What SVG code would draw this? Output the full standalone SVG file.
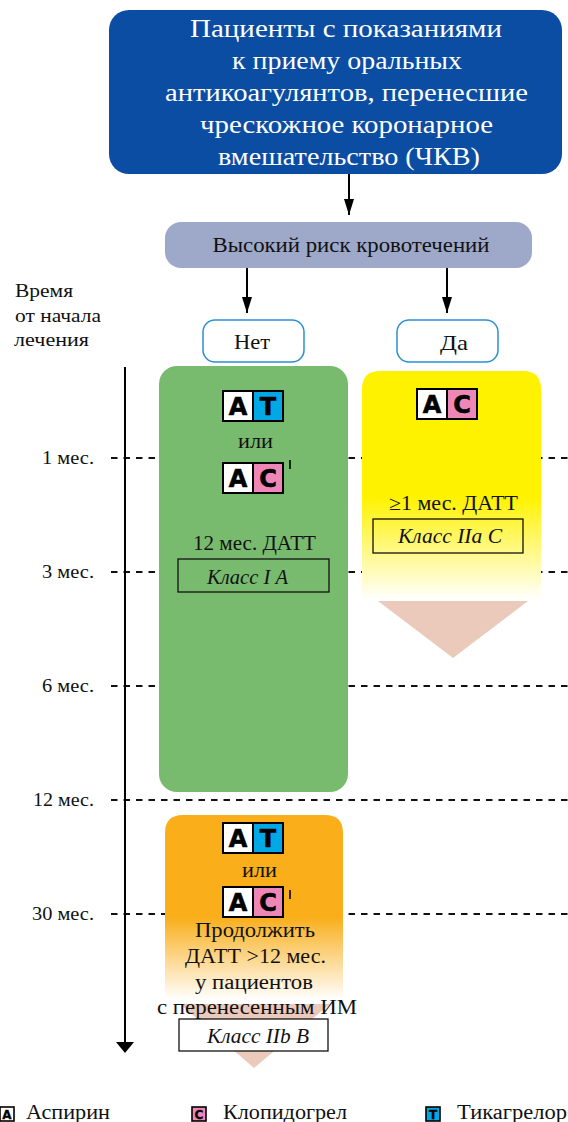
<svg xmlns="http://www.w3.org/2000/svg" width="568" height="1122" viewBox="0 0 568 1122">
<style>
.t{font-family:"Liberation Serif","DejaVu Serif","Times New Roman",serif;fill:#111;}
.c{text-anchor:middle;}
.r{text-anchor:end;}
.w{fill:#fff;}
.it{font-style:italic;}
.bl{font-family:"DejaVu Sans","Liberation Sans",Arial,sans-serif;font-weight:bold;text-anchor:middle;fill:#000;stroke:#000;stroke-width:0.6;}
.dash{stroke:#111;stroke-width:2;stroke-dasharray:6.5 6;}
.conn{stroke:#000;stroke-width:2;fill:none;}
.cls{fill:none;stroke:#111;stroke-width:1.3;}
.yn{fill:#fff;stroke:#2b8fd3;stroke-width:1.5;}
</style>
<defs>
<linearGradient id="gy" x1="0" y1="0" x2="0" y2="1">
<stop offset="0" stop-color="#fff200"/>
<stop offset="0.55" stop-color="#fff200"/>
<stop offset="1" stop-color="#ffffff"/>
</linearGradient>
<linearGradient id="go" x1="0" y1="0" x2="0" y2="1">
<stop offset="0" stop-color="#f9ae1a"/>
<stop offset="0.55" stop-color="#f9ae1a"/>
<stop offset="1" stop-color="#ffffff"/>
</linearGradient>
<marker id="ah" viewBox="0 0 16 10" refX="16" refY="5" markerWidth="16" markerHeight="10" markerUnits="userSpaceOnUse" orient="auto">
<path d="M0,0 L16,5 L0,10 Z" fill="#000"/>
</marker>
<g id="bAT">
<rect x="0" y="0" width="30" height="30" fill="#fff"/>
<rect x="30" y="0" width="30" height="30" fill="#00a8e6"/>
<rect x="0" y="0" width="60" height="30" fill="none" stroke="#000" stroke-width="2"/>
<line x1="30" y1="0" x2="30" y2="30" stroke="#000" stroke-width="2"/>
<text x="15" y="24" class="bl" font-size="24">A</text>
<text x="45" y="24" class="bl" font-size="24">T</text>
</g>
<g id="bAC">
<rect x="0" y="0" width="30" height="30" fill="#fff"/>
<rect x="30" y="0" width="30" height="30" fill="#ef86b8"/>
<rect x="0" y="0" width="60" height="30" fill="none" stroke="#000" stroke-width="2"/>
<line x1="30" y1="0" x2="30" y2="30" stroke="#000" stroke-width="2"/>
<text x="15" y="24" class="bl" font-size="24">A</text>
<text x="45" y="24" class="bl" font-size="24">C</text>
</g>
</defs>

<g id="timeline">
<line x1="111" y1="458" x2="568" y2="458" class="dash"/>
<line x1="111" y1="572" x2="568" y2="572" class="dash"/>
<line x1="111" y1="686" x2="568" y2="686" class="dash"/>
<line x1="111" y1="800" x2="568" y2="800" class="dash"/>
<line x1="111" y1="914" x2="568" y2="914" class="dash"/>
<line x1="125" y1="367" x2="125" y2="1042" stroke="#000" stroke-width="2"/>
<path d="M116,1042 L134,1042 L125,1053 Z" fill="#000"/>
<text x="15" y="297" class="t" font-size="19" textLength="58" lengthAdjust="spacingAndGlyphs">Время</text>
<text x="15" y="322" class="t" font-size="19" textLength="86" lengthAdjust="spacingAndGlyphs">от начала</text>
<text x="14" y="346" class="t" font-size="19" textLength="75" lengthAdjust="spacingAndGlyphs">лечения</text>
<text x="94" y="464" class="t r" font-size="19" textLength="52" lengthAdjust="spacingAndGlyphs">1 мес.</text>
<text x="94" y="578" class="t r" font-size="19" textLength="52" lengthAdjust="spacingAndGlyphs">3 мес.</text>
<text x="94" y="692" class="t r" font-size="19" textLength="52" lengthAdjust="spacingAndGlyphs">6 мес.</text>
<text x="94" y="806" class="t r" font-size="19" textLength="61" lengthAdjust="spacingAndGlyphs">12 мес.</text>
<text x="94" y="920" class="t r" font-size="19" textLength="62" lengthAdjust="spacingAndGlyphs">30 мес.</text>
</g>

<g id="connectors">
<line x1="349" y1="174" x2="349" y2="215" class="conn" marker-end="url(#ah)"/>
<line x1="247" y1="268" x2="247" y2="313" class="conn" marker-end="url(#ah)"/>
<line x1="447" y1="268" x2="447" y2="313" class="conn" marker-end="url(#ah)"/>
</g>

<g id="patients">
<rect x="109" y="10" width="453" height="164" rx="20" fill="#0a4da2"/>
<text x="346" y="37" class="t c w" font-size="25" textLength="312" lengthAdjust="spacingAndGlyphs">Пациенты с показаниями</text>
<text x="347" y="69" class="t c w" font-size="25" textLength="230" lengthAdjust="spacingAndGlyphs">к приему оральных</text>
<text x="346.5" y="101" class="t c w" font-size="25" textLength="363" lengthAdjust="spacingAndGlyphs">антикоагулянтов, перенесшие</text>
<text x="346.5" y="133" class="t c w" font-size="25" textLength="293" lengthAdjust="spacingAndGlyphs">чрескожное коронарное</text>
<text x="349" y="165" class="t c w" font-size="25" textLength="262" lengthAdjust="spacingAndGlyphs">вмешательство (ЧКВ)</text>
</g>

<g id="risk">
<rect x="165" y="222" width="367" height="46" rx="16" fill="#9ea8c9"/>
<text x="351" y="252" class="t c" font-size="21" textLength="277" lengthAdjust="spacingAndGlyphs">Высокий риск кровотечений</text>
</g>

<g id="no">
<rect x="203" y="320" width="101" height="42" rx="12" class="yn"/>
<text x="252" y="349" class="t c" font-size="21" textLength="36" lengthAdjust="spacingAndGlyphs">Нет</text>
</g>

<g id="yes">
<rect x="397" y="320" width="101" height="42" rx="12" class="yn"/>
<text x="454" y="350" class="t c" font-size="21" textLength="28" lengthAdjust="spacingAndGlyphs">Да</text>
</g>

<g id="green">
<rect x="159" y="366" width="189" height="426" rx="18" fill="#78bb6e"/>
<use href="#bAT" x="223" y="391"/>
<text x="255.5" y="448" class="t c" font-size="20" textLength="35" lengthAdjust="spacingAndGlyphs">или</text>
<use href="#bAC" x="223" y="463"/>
<line x1="290" y1="460" x2="290" y2="469" stroke="#000" stroke-width="1.6"/>
<text x="254.5" y="550" class="t c" font-size="20" textLength="123" lengthAdjust="spacingAndGlyphs">12 мес. ДАТТ</text>
<rect x="178" y="559" width="151" height="33" class="cls"/>
<text x="247.5" y="584" class="t c it" font-size="20" textLength="81" lengthAdjust="spacingAndGlyphs">Класс I А</text>
</g>

<g id="yellow">
<path d="M362,600 L362,389 Q362,371 380,371 L523,371 Q541,371 541,389 L541,600 Z" fill="url(#gy)"/>
<path d="M378,601 L528,601 L453,658 Z" fill="#ebcabb"/>
<use href="#bAC" x="417" y="389"/>
<text x="453.5" y="510" class="t c" font-size="20" textLength="129" lengthAdjust="spacingAndGlyphs">≥1 мес. ДАТТ</text>
<rect x="373" y="519" width="150" height="34" class="cls"/>
<text x="450" y="543" class="t c it" font-size="20" textLength="104" lengthAdjust="spacingAndGlyphs">Класс IIа С</text>
</g>

<g id="orange">
<path d="M180,1004 L330,1004 L254,1068 Z" fill="#ebcabb"/>
<path d="M165,1000 L165,833 Q165,815 183,815 L325,815 Q343,815 343,833 L343,1000 Z" fill="url(#go)"/>
<use href="#bAT" x="223" y="823"/>
<text x="259.5" y="877" class="t c" font-size="20" textLength="35" lengthAdjust="spacingAndGlyphs">или</text>
<use href="#bAC" x="223" y="887"/>
<line x1="290" y1="890" x2="290" y2="899" stroke="#000" stroke-width="1.6"/>
<text x="255" y="937" class="t c" font-size="20" textLength="120" lengthAdjust="spacingAndGlyphs">Продолжить</text>
<text x="255.5" y="963" class="t c" font-size="20" textLength="141" lengthAdjust="spacingAndGlyphs">ДАТТ &gt;12 мес.</text>
<text x="254" y="989" class="t c" font-size="20" textLength="118" lengthAdjust="spacingAndGlyphs">у пациентов</text>
<text x="257" y="1014" class="t c" font-size="20" textLength="200" lengthAdjust="spacingAndGlyphs">с перенесенным ИМ</text>
<rect x="179" y="1019" width="149" height="32" fill="#fff" stroke="#111" stroke-width="1.3"/>
<text x="258" y="1043" class="t c it" font-size="20" textLength="102" lengthAdjust="spacingAndGlyphs">Класс IIb В</text>
</g>

<g id="legend">
<rect x="0" y="1107" width="14" height="14" fill="#fff" stroke="#000" stroke-width="1.6"/>
<text x="7" y="1119" class="bl" font-size="12" style="stroke-width:0.3">A</text>
<text x="26" y="1119" class="t" font-size="20" textLength="84" lengthAdjust="spacingAndGlyphs">Аспирин</text>
<rect x="192" y="1107" width="14" height="14" fill="#ef86b8" stroke="#000" stroke-width="1.6"/>
<text x="199" y="1119" class="bl" font-size="12" style="stroke-width:0.3">C</text>
<text x="223" y="1119" class="t" font-size="20" textLength="124" lengthAdjust="spacingAndGlyphs">Клопидогрел</text>
<rect x="426" y="1107" width="14" height="14" fill="#00a8e6" stroke="#000" stroke-width="1.6"/>
<text x="433" y="1119" class="bl" font-size="12" style="stroke-width:0.3">T</text>
<text x="457" y="1119" class="t" font-size="20" textLength="110" lengthAdjust="spacingAndGlyphs">Тикагрелор</text>
</g>
</svg>
